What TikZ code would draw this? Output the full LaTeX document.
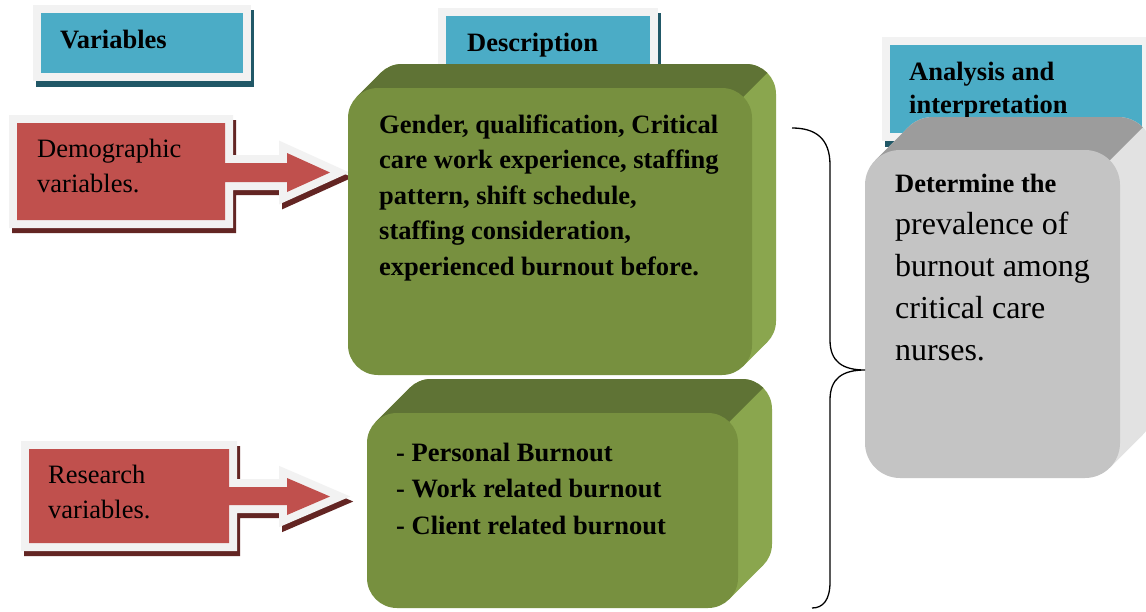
\documentclass[tikz,border=0pt]{standalone}
\usepackage{fontspec}
\setmainfont{Liberation Serif}
\usetikzlibrary{calc}
\definecolor{hblue}{HTML}{4BACC6}
\definecolor{hshadow}{HTML}{215867}
\definecolor{hframe}{HTML}{F2F2F2}
\definecolor{ared}{HTML}{C0504D}
\definecolor{ashadow}{HTML}{632523}
\definecolor{gfront}{HTML}{77903F}
\definecolor{gtop}{HTML}{5F7335}
\definecolor{gside}{HTML}{8AA64E}
\definecolor{sfront}{HTML}{C4C4C4}
\definecolor{stop}{HTML}{9C9C9C}
\definecolor{sside}{HTML}{E2E2E2}
\newcommand\txtlines[1]{\begin{tabular}[t]{@{}l@{}}#1\end{tabular}}
% name, x1, y1, x2, y2, depth, radius, colour prefix
\newcommand\solidbox[8]{%
  \fill[#8side, rounded corners=#7pt] ({#2+#6},{#3-#6}) rectangle ({#4+#6},{#5-#6});
  \fill[#8side] ({#2+0.293*#7},{#3+0.293*#7}) -- ({#2+0.293*#7+#6},{#3+0.293*#7-#6})
     -- ({#4-0.293*#7+#6},{#5-0.293*#7-#6}) -- ({#4-0.293*#7},{#5-0.293*#7}) -- cycle;
  \begin{scope}
    \clip ({#4-0.293*#7+400},{#3+0.293*#7-400}) -- ({#4-0.293*#7-400},{#3+0.293*#7+400})
      -- ({#4-0.293*#7-1400},{#3+0.293*#7+400}) -- ({#4-0.293*#7-1400},{#3+0.293*#7-1400})
      -- ({#4-0.293*#7+400},{#3+0.293*#7-1400}) -- cycle;
    \fill[#8top, rounded corners=#7pt] ({#2+#6},{#3-#6}) rectangle ({#4+#6},{#5-#6});
    \fill[#8top] ({#2+0.293*#7},{#3+0.293*#7}) -- ({#2+0.293*#7+#6},{#3+0.293*#7-#6})
       -- ({#4-0.293*#7+#6},{#5-0.293*#7-#6}) -- ({#4-0.293*#7},{#5-0.293*#7}) -- cycle;
  \end{scope}
  \node[fill=#8front, rounded corners=#7pt, inner sep=0pt, outer sep=0pt, anchor=north west,
        minimum width={(#4-#2)*1pt}, minimum height={(#5-#3)*1pt}] (#1) at (#2,#3) {};
}
% name, x1, y1, x2, y2
\newcommand\headbox[5]{%
  \fill[hshadow] ({#2+3},{#3+5}) rectangle ({#4+3},{#5+6});
  \fill[hframe] (#2,#3) rectangle (#4,#5);
  \node[fill=hblue, inner sep=0pt, outer sep=0pt, anchor=north west,
        minimum width={(#4-#2-16)*1pt}, minimum height={(#5-#3-16)*1pt}] (#1) at ({#2+8},{#3+8}) {};
}
% arrow outline: x1 y1 x2 y2 shafttop shaftbot headtop headbot
\newcommand\arrowpath[8]{(#1,#2) -- (#3,#2) -- (#3,#5) -- (287,#5) -- (287,#7) -- (330,{(#7+#8)/2}) -- (287,#8) -- (287,#6) -- (#3,#6) -- (#3,#4) -- (#1,#4) -- cycle}
\tikzset{
  boldtxt/.style={font=\fontsize{26.5}{35.5}\selectfont\bfseries, inner sep=0pt, anchor=base west},
  plaintxt/.style={font=\fontsize{26.5}{35}\selectfont, inner sep=0pt, anchor=base west},
  arrowframe/.style={draw=hframe, line width=16pt, line join=miter},
  arrowshadow/.style={draw=ashadow, fill=ashadow, line width=16pt, line join=miter, shift={(3,5)}},
  bracestyle/.style={draw=black, line width=1.3pt}
}
\begin{document}
\begin{tikzpicture}[x=1pt, y=-1pt]
\useasboundingbox (0,0) rectangle (1146,611);
\fill[white] (0,0) rectangle (1146,611);

% header boxes
\headbox{hvar}{33}{5}{251}{81}
\headbox{hdesc}{438}{8}{658}{110}
\node[boldtxt] (tvar) at (60,48) {Variables};
\node[boldtxt] (tdesc) at (467,51) {Description};

% red arrows
\draw[arrowshadow] \arrowpath{17}{123}{225}{220}{163}{182}{153}{192};
\draw[arrowframe] \arrowpath{17}{123}{225}{220}{163}{182}{153}{192};
\fill[ared] \arrowpath{17}{123}{225}{220}{163}{182}{153}{192};
\draw[arrowshadow] \arrowpath{29}{449}{229}{543}{487}{505}{478}{515};
\draw[arrowframe] \arrowpath{29}{449}{229}{543}{487}{505}{478}{515};
\fill[ared] \arrowpath{29}{449}{229}{543}{487}{505}{478}{515};
\node[plaintxt] (tdemo) at (37,157) {\txtlines{Demographic\\variables.}};
\node[plaintxt] (tres) at (48,483) {\txtlines{Research\\variables.}};

% green boxes
\solidbox{desc}{348}{88}{752}{375}{24}{30}{g}
\solidbox{burn}{367}{413}{738}{608}{34}{30}{g}
\node[boldtxt] (tdescbody) at (379,133) {\txtlines{Gender, qualification, Critical\\care work experience, staffing\\pattern, shift schedule,\\staffing consideration,\\experienced burnout before.}};
\node[boldtxt, font=\fontsize{26.5}{36.5}\selectfont\bfseries] (tburn) at (396,461) {\txtlines{- Personal Burnout\\- Work related burnout\\- Client related burnout}};

% analysis header and grey box
\headbox{hana}{882}{37}{1150}{141}
\node[boldtxt, font=\fontsize{26.5}{33.5}\selectfont\bfseries] (tana) at (909,80) {\txtlines{Analysis and\\interpretation}};
\solidbox{result}{865}{150}{1120}{478}{33}{35}{s}
\node[plaintxt, font=\fontsize{32}{42}\selectfont] (tresult) at (895,192) {\txtlines{{\fontsize{26.5}{30}\selectfont\bfseries Determine the}\\prevalence of\\burnout among\\critical care\\nurses.}};

% brace
\coordinate (bracetop) at (792,128);
\coordinate (bracetip) at (result.west |- 0,370);
\coordinate (bracebot) at (812,608);
\draw[bracestyle] (bracetop) .. controls (815,128) and (830,138) .. (830,165) -- (830,340)
  .. controls (830,362) and (843,370) .. (bracetip)
  .. controls (843,370) and (830,378) .. (830,400) -- (830,582)
  .. controls (830,600) and (823,608) .. (bracebot);
\end{tikzpicture}
\end{document}
